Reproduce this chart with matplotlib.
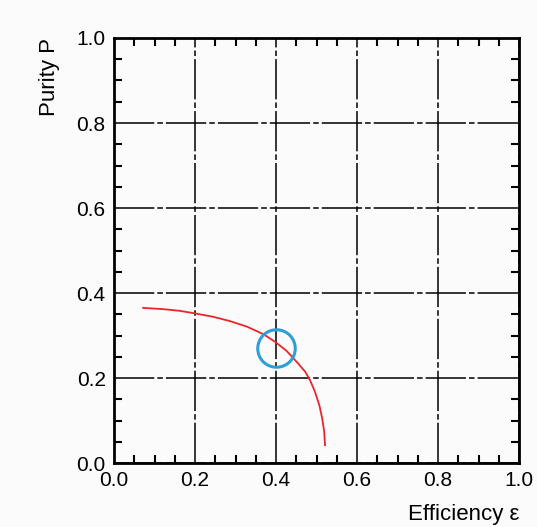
import matplotlib
matplotlib.use("Agg")
import matplotlib.pyplot as plt
from matplotlib.ticker import MultipleLocator

plt.rcParams['font.family'] = ['Liberation Sans', 'DejaVu Sans']
plt.rcParams['lines.scale_dashes'] = False

# Data
efficiency = [0.072, 0.122, 0.163, 0.200, 0.245, 0.286, 0.328, 0.369, 0.398,
              0.426, 0.451, 0.472, 0.484, 0.496, 0.507, 0.514, 0.519, 0.521]
purity = [0.365, 0.362, 0.358, 0.352, 0.344, 0.334, 0.321, 0.303, 0.285,
          0.264, 0.238, 0.215, 0.195, 0.168, 0.136, 0.105, 0.074, 0.042]
marked_eff = [0.40]
marked_pur = [0.271]
ticks = [0.0, 0.2, 0.4, 0.6, 0.8, 1.0]
tick_labels = ["0.0", "0.2", "0.4", "0.6", "0.8", "1.0"]

fig = plt.figure(figsize=(5.37, 5.27), dpi=100, facecolor='#fbfbfb')
ax = fig.add_axes([0.2123, 0.1214, 0.7542, 0.8065])
ax.set_facecolor('#fbfbfb')

ax.set_xlim(0, 1)
ax.set_ylim(0, 1)
ax.set_xticks(ticks)
ax.set_yticks(ticks)
ax.set_xticklabels(tick_labels)
ax.set_yticklabels(tick_labels)
ax.xaxis.set_minor_locator(MultipleLocator(0.05))
ax.yaxis.set_minor_locator(MultipleLocator(0.05))

ax.grid(True, which='major', color='black', linewidth=1.1,
        linestyle=(0, (29, 2.2, 4, 2.2)))
ax.set_axisbelow(True)

for s in ax.spines.values():
    s.set_linewidth(2.0)
    s.set_color('black')

ax.tick_params(which='both', direction='in', top=True, right=True,
               labelsize=15, colors='black')
ax.tick_params(which='major', length=0, pad=6)
ax.tick_params(which='minor', length=6, width=1.5)

ax.plot(efficiency, purity, color='#e8262c', linewidth=1.3, zorder=3)
ax.plot(marked_eff, marked_pur, marker='o', markersize=27,
        markerfacecolor='none', markeredgecolor='#2e9fd6',
        markeredgewidth=2.2, linestyle='none', zorder=4)

ax.set_xlabel("Efficiency ε", fontsize=16, loc='right', labelpad=10)
ax.set_ylabel("Purity P", fontsize=16, loc='top', labelpad=12)

fig.savefig("out.png", dpi=100, facecolor=fig.get_facecolor())
